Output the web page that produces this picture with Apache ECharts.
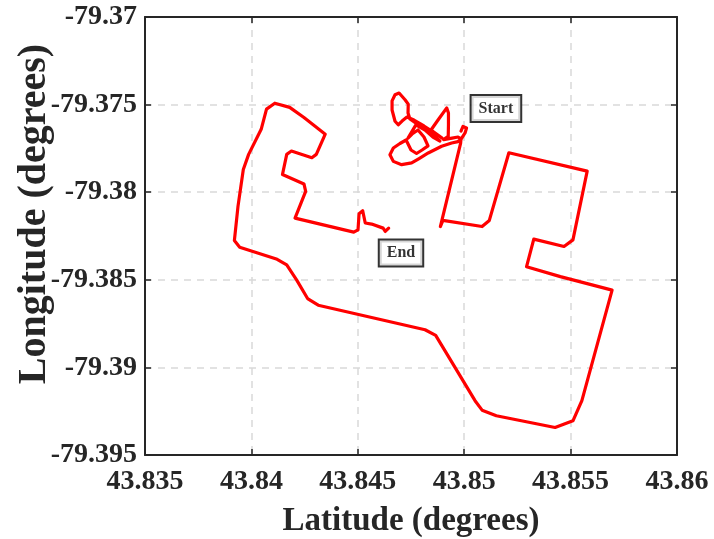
<!DOCTYPE html>
<html>
<head>
<meta charset="utf-8">
<script src="https://cdn.jsdelivr.net/npm/echarts@6/dist/echarts.min.js"></script>
<style>
  html, body { margin: 0; padding: 0; background: #ffffff; }
  #chart { width: 714px; height: 539px; }
</style>
</head>
<body>
<div id="chart"></div>
<script>
// Axis ticks (degrees)
const latTicks = [43.835, 43.84, 43.845, 43.85, 43.855, 43.86];
const latTickLabels = ['43.835', '43.84', '43.845', '43.85', '43.855', '43.86'];
const lonTicks = [-79.395, -79.39, -79.385, -79.38, -79.375, -79.37];
const lonTickLabels = ['-79.395', '-79.39', '-79.385', '-79.38', '-79.375', '-79.37'];

// GPS track, in recorded order: latitude and longitude of each fix
const trackLat = [
  43.84985, 43.84994, 43.85011, 43.85004, 43.84987, 43.84971, 43.84941, 43.84894,
  43.84831, 43.84788, 43.84753, 43.84706, 43.84667, 43.84651, 43.84667, 43.84698,
  43.84727, 43.84750, 43.84776, 43.84802, 43.84830, 43.84811, 43.84783, 43.84755,
  43.84736, 43.84773, 43.84816, 43.84853, 43.84886, 43.84839, 43.84792, 43.84745,
  43.84736, 43.84737, 43.84722, 43.84694, 43.84675, 43.84661, 43.84661, 43.84675,
  43.84690, 43.84708, 43.84731, 43.84764, 43.84811, 43.84853, 43.84896, 43.84844,
  43.84877, 43.84918, 43.84926, 43.84926, 43.84925, 43.84903, 43.84943, 43.84971,
  43.84985, 43.84983,
  43.84888, 43.84900, 43.85084, 43.85118, 43.85210, 43.85578, 43.85511, 43.85469,
  43.85327, 43.85293, 43.85452, 43.85695, 43.85553, 43.85511, 43.85427, 43.85151,
  43.85084, 43.85051, 43.84866, 43.84816, 43.84314, 43.84264, 43.84213, 43.84166,
  43.84121, 43.83945, 43.83920, 43.83937, 43.83962, 43.83987, 43.84046, 43.84071,
  43.84110, 43.84180, 43.84247, 43.84347, 43.84305, 43.84284, 43.84188, 43.84166,
  43.84146, 43.84247, 43.84255, 43.84205, 43.84481, 43.84501, 43.84506, 43.84523,
  43.84535, 43.84565, 43.84619, 43.84629, 43.84645
];
const trackLon = [
  -79.37651, -79.37625, -79.37634, -79.37662, -79.37694, -79.37711, -79.37719, -79.37738,
  -79.37776, -79.37808, -79.37833, -79.37843, -79.37824, -79.37786, -79.37748, -79.37722,
  -79.37702, -79.37759, -79.37779, -79.37759, -79.37736, -79.37685, -79.37645, -79.37668,
  -79.37691, -79.37616, -79.37645, -79.37685, -79.37708, -79.37662, -79.37622, -79.37582,
  -79.37548, -79.37497, -79.37472, -79.37434, -79.37444, -79.37479, -79.37531, -79.37595,
  -79.37615, -79.37594, -79.37571, -79.37588, -79.37622, -79.37656, -79.37691, -79.37645,
  -79.37588, -79.37519, -79.37548, -79.37616, -79.37681, -79.37700, -79.37691, -79.37685,
  -79.37696, -79.37722,
  -79.38196, -79.38161, -79.38196, -79.38161, -79.37775, -79.37880, -79.38272, -79.38310,
  -79.38268, -79.38425, -79.38482, -79.38559, -79.39190, -79.39305, -79.39343, -79.39276,
  -79.39244, -79.39190, -79.38817, -79.38785, -79.38645, -79.38607, -79.38502, -79.38415,
  -79.38383, -79.38314, -79.38276, -79.38081, -79.37870, -79.37784, -79.37641, -79.37526,
  -79.37492, -79.37516, -79.37574, -79.37669, -79.37784, -79.37803, -79.37765, -79.37784,
  -79.37899, -79.37953, -79.37995, -79.38148, -79.38228, -79.38215, -79.38123, -79.38106,
  -79.38176, -79.38182, -79.38205, -79.38224, -79.38205
];

// Text annotations placed in data coordinates
const noteNames = ['Start', 'End'];
const noteLat = [43.85149, 43.84703];
const noteLon = [-79.37522, -79.38347];

const FONT = 'Liberation Serif';
const FRAME = '#262626';

function tickLabel(ticks, labels) {
  return function (v) {
    let best = 0;
    for (let i = 1; i < ticks.length; i++) {
      if (Math.abs(ticks[i] - v) < Math.abs(ticks[best] - v)) best = i;
    }
    return labels[best];
  };
}

const latMin = latTicks[0], latMax = latTicks[latTicks.length - 1];
const lonMin = lonTicks[0], lonMax = lonTicks[lonTicks.length - 1];
const step = 0.005;

const trackData = trackLat.map((la, i) => [la, trackLon[i]]);
const noteData = noteNames.map((n, i) => ({ name: n, value: [noteLat[i], noteLon[i]] }));

const chart = echarts.init(document.getElementById('chart'), null, { renderer: 'canvas' });

const frameAxisBase = {
  type: 'value',
  axisLine: { show: true, onZero: false, lineStyle: { color: FRAME, width: 2 } },
  axisTick: { show: true, inside: true, length: 6, lineStyle: { color: FRAME, width: 1.5 } },
  splitLine: { show: false },
  axisLabel: { show: false }
};

chart.setOption({
  animation: false,
  backgroundColor: '#ffffff',
  grid: { left: 145, right: 37, top: 17, bottom: 84, containLabel: false, outerBoundsMode: 'none' },
  xAxis: [
    {
      type: 'value',
      min: latMin, max: latMax, interval: step,
      name: 'Latitude (degrees)',
      nameLocation: 'middle',
      nameGap: 50,
      nameMoveOverlap: false,
      nameTextStyle: { fontFamily: FONT, fontWeight: 'bold', fontSize: 33, color: FRAME },
      axisLine: { show: true, onZero: false, lineStyle: { color: FRAME, width: 2 } },
      axisTick: { show: true, inside: true, length: 6, lineStyle: { color: FRAME, width: 1.5 } },
      axisLabel: {
        show: true, margin: 13, color: FRAME,
        fontFamily: FONT, fontWeight: 'bold', fontSize: 28,
        formatter: tickLabel(latTicks, latTickLabels)
      },
      splitLine: { show: true, lineStyle: { color: '#d9d9d9', width: 1.5, type: [7, 6] } }
    },
    Object.assign({}, frameAxisBase, { position: 'top', min: latMin, max: latMax, interval: step })
  ],
  yAxis: [
    {
      type: 'value',
      min: lonMin, max: lonMax, interval: step,
      name: 'Longitude (degrees)',
      nameLocation: 'middle',
      nameGap: 90,
      nameMoveOverlap: false,
      nameTextStyle: {
        fontFamily: FONT, fontWeight: 'bold', fontSize: 40, color: FRAME,
        padding: [0, 0, 0, 44]
      },
      axisLine: { show: true, onZero: false, lineStyle: { color: FRAME, width: 2 } },
      axisTick: { show: true, inside: true, length: 6, lineStyle: { color: FRAME, width: 1.5 } },
      axisLabel: {
        show: true, margin: 8, color: FRAME,
        fontFamily: FONT, fontWeight: 'bold', fontSize: 28,
        formatter: tickLabel(lonTicks, lonTickLabels)
      },
      splitLine: { show: true, lineStyle: { color: '#d9d9d9', width: 1.5, type: [7, 6] } }
    },
    Object.assign({}, frameAxisBase, { position: 'right', min: lonMin, max: lonMax, interval: step })
  ],
  series: [
    {
      name: 'Track',
      type: 'line',
      data: trackData,
      showSymbol: false,
      symbol: 'none',
      smooth: false,
      lineStyle: { color: '#ff0000', width: 3.2, join: 'round', cap: 'round' },
      emphasis: { disabled: true },
      silent: true,
      z: 3
    },
    {
      name: 'Notes',
      type: 'scatter',
      data: noteData,
      symbolSize: 1,
      itemStyle: { color: 'rgba(0,0,0,0)' },
      silent: true,
      z: 5,
      label: {
        show: true,
        position: 'inside',
        formatter: '{b}',
        fontFamily: FONT, fontWeight: 'bold', fontSize: 16, color: '#000',
        textBorderWidth: 0,
        backgroundColor: '#ffffff',
        borderColor: '#000', borderWidth: 2,
        padding: [5, 7, 4, 7]
      }
    }
  ]
});
</script>
</body>
</html>
